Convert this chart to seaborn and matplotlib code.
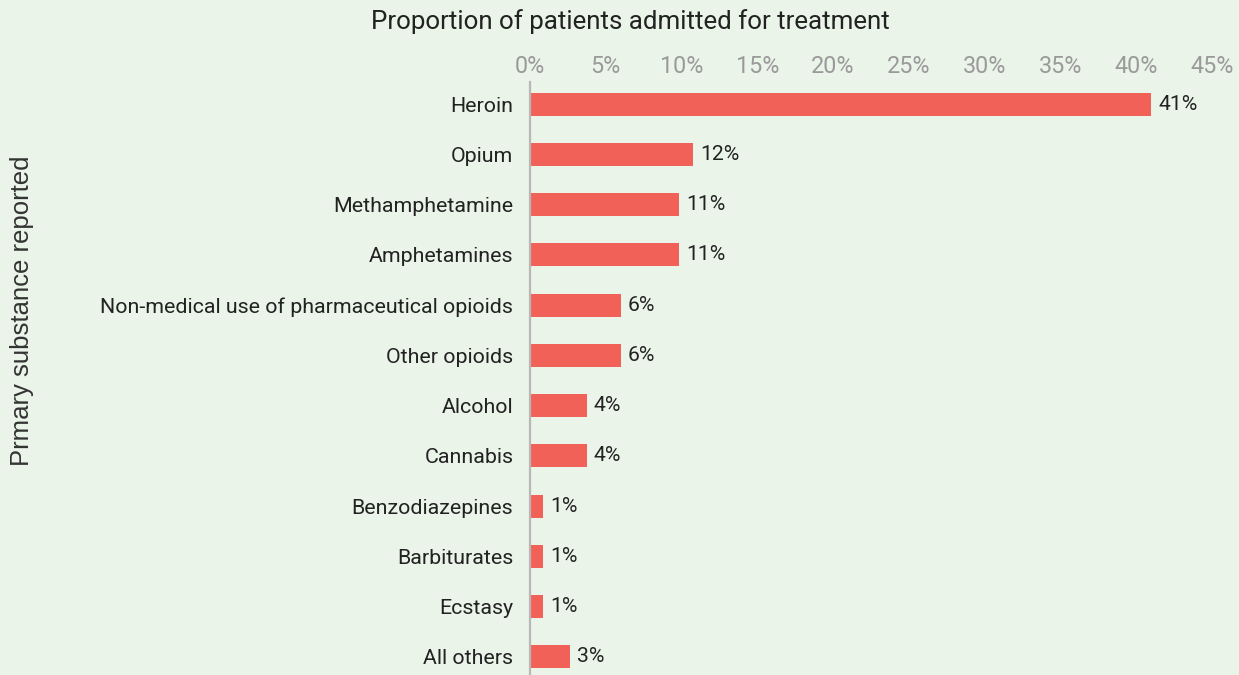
import matplotlib
matplotlib.use("Agg")
import matplotlib.pyplot as plt
import seaborn as sns
import pandas as pd

categories = [
    "Heroin", "Opium", "Methamphetamine", "Amphetamines",
    "Non-medical use of pharmaceutical opioids", "Other opioids",
    "Alcohol", "Cannabis", "Benzodiazepines", "Barbiturates",
    "Ecstasy", "All others",
]
# proportions (%)
values = [41.0, 10.75, 9.85, 9.85, 6.0, 6.0, 3.76, 3.76, 0.86, 0.86, 0.86, 2.64]
# value labels as printed on the chart
value_labels = ["41%", "12%", "11%", "11%", "6%", "6%", "4%", "4%", "1%", "1%", "1%", "3%"]
x_ticks = [0, 5, 10, 15, 20, 25, 30, 35, 40, 45]
x_tick_labels = ["0%", "5%", "10%", "15%", "20%", "25%", "30%", "35%", "40%", "45%"]

title = "Proportion of patients admitted for treatment"
ylabel = "Prmary substance reported"

BG = "#EAF4E8"
BAR = "#F26157"

sns.set_style("white")
plt.rcParams["font.family"] = ["Roboto", "DejaVu Sans"]

W, H = 1239, 675
fig = plt.figure(figsize=(W / 100, H / 100), dpi=100, facecolor=BG)
left, right, top, bottom = 530, 1212, 82, 675
ax = fig.add_axes([left / W, 1 - bottom / H, (right - left) / W, (bottom - top) / H])
ax.set_facecolor(BG)

df = pd.DataFrame({"cat": categories, "val": values})
sns.barplot(data=df, x="val", y="cat", orient="h", color=BAR, width=0.46,
            saturation=1, ax=ax, order=categories, linewidth=0, edgecolor=BAR)

ax.set_xlim(0, 45)
ax.set_ylim(11.36, -0.44)
ax.set_xlabel("")
ax.set_ylabel("")

ax.xaxis.tick_top()
ax.set_xticks(x_ticks)
ax.set_xticklabels(x_tick_labels)
ax.tick_params(axis="x", length=0, pad=3, labelsize=16.8, labelcolor="#9A9A9A")
ax.tick_params(axis="y", length=0, pad=12, labelsize=15.4, labelcolor="#222222")

for s in ["top", "right", "bottom"]:
    ax.spines[s].set_visible(False)
ax.spines["left"].set_color("#B8B8B8")
ax.spines["left"].set_linewidth(1.6)
ax.grid(False)

for i, (v, lab) in enumerate(zip(values, value_labels)):
    ax.annotate(lab, xy=(v, i), xytext=(5, 0), textcoords="offset points",
                va="center", ha="left", fontsize=15.2, color="#222222")

fig.text(630 / W, 1 - 22 / H, title, ha="center", va="center",
         fontsize=18.6, color="#222222")
fig.text(22 / W, 1 - 311 / H, ylabel, ha="center", va="center", rotation=90,
         fontsize=18.5, color="#333333", family=["Liberation Sans", "DejaVu Sans"])

fig.savefig("out.png", dpi=100, facecolor=BG)
